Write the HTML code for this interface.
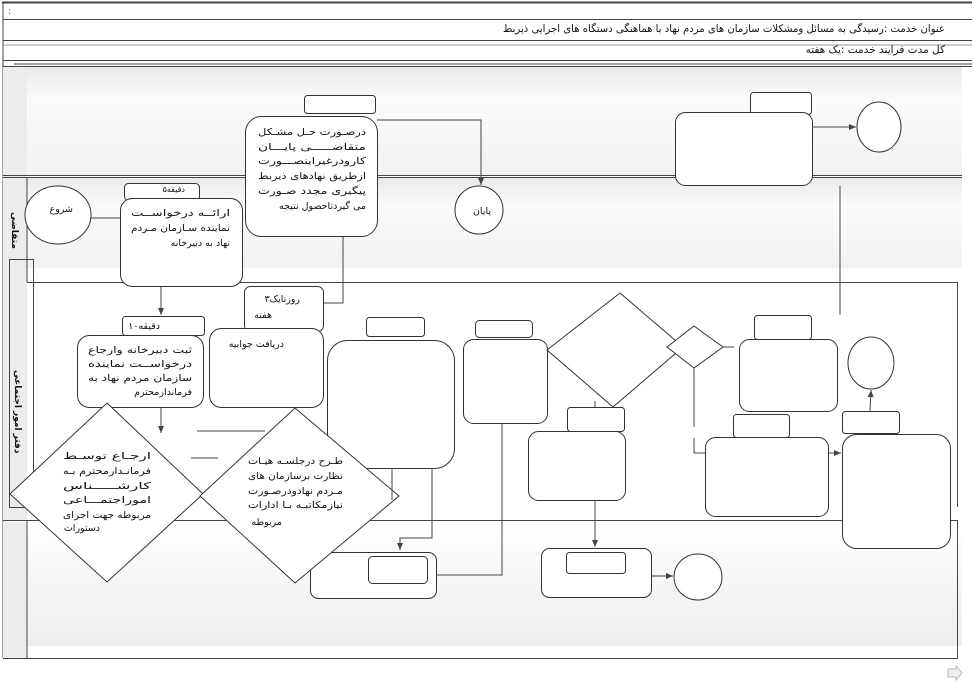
<!DOCTYPE html>
<html><head><meta charset="utf-8"><style>
body{margin:0;background:#fff;width:974px;height:682px;overflow:hidden}
svg text{font-family:"DejaVu Sans","Liberation Sans",sans-serif;font-size:9.5px;fill:#111}
</style></head><body>
<svg width="974" height="682" viewBox="0 0 974 682" xmlns="http://www.w3.org/2000/svg">
<defs>
<linearGradient id="g1" x1="0" y1="0" x2="0" y2="1"><stop offset="0" stop-color="#e9e9e9"/><stop offset="0.3" stop-color="#fbfbfb"/><stop offset="1" stop-color="#f2f2f2"/></linearGradient>
<linearGradient id="g2" x1="0" y1="0" x2="0" y2="1"><stop offset="0" stop-color="#fff"/><stop offset="1" stop-color="#ededed"/></linearGradient>
<marker id="a" markerWidth="8" markerHeight="8" refX="7" refY="4" orient="auto" markerUnits="userSpaceOnUse"><path d="M0,1 L7,4 L0,7 z" fill="#444"/></marker>
</defs>
<g stroke="#444" fill="none" stroke-width="1">
<line x1="2" y1="2.5" x2="972" y2="2.5" stroke-width="2"/>
<line x1="3" y1="3" x2="3" y2="658"/>
<line x1="3" y1="19.5" x2="972" y2="19.5"/>
<line x1="3" y1="40.5" x2="972" y2="40.5"/>
<line x1="3" y1="45" x2="972" y2="45" stroke="#999"/>
<line x1="3" y1="60.5" x2="972" y2="60.5"/>
<line x1="14" y1="64" x2="972" y2="64"/>
<line x1="3" y1="66.5" x2="972" y2="66.5"/>
</g>
<text x="8" y="14" style="fill:#e33">:</text>
<text x="945" y="32" text-anchor="end" style="font-size:10.5px" textLength="442" lengthAdjust="spacingAndGlyphs">عنوان خدمت :رسیدگی به مسائل ومشکلات سازمان های مردم نهاد با هماهنگی دستگاه های اجرایی ذیربط</text>
<text x="945" y="53" text-anchor="end" style="font-size:10.5px">کل مدت فرایند خدمت :یک هفته</text>
<rect x="3" y="67" width="24" height="110" fill="#ececec"/>
<rect x="27" y="67" width="935" height="108" fill="url(#g1)"/>
<rect x="3" y="178" width="24" height="342" fill="#ececec"/>
<rect x="27" y="178" width="935" height="90" fill="url(#g1)"/>
<rect x="27" y="522" width="935" height="124" fill="url(#g2)"/>
<rect x="3" y="522" width="24" height="136" fill="#ececec"/>
<g stroke="#444" fill="none">
<line x1="3" y1="175.5" x2="962" y2="175.5"/>
<line x1="3" y1="177.5" x2="962" y2="177.5"/>
<line x1="27" y1="178" x2="27" y2="282"/>
<line x1="27" y1="282.5" x2="958" y2="282.5"/>
<rect x="9.5" y="259.5" width="24" height="248"/>
<line x1="3" y1="520.5" x2="958" y2="520.5"/>
<line x1="27" y1="520" x2="27" y2="658"/>
<line x1="3" y1="658.5" x2="958" y2="658.5"/>
<line x1="957.5" y1="282" x2="957.5" y2="507"/>
<line x1="957.5" y1="520" x2="957.5" y2="658"/>
</g>
<text transform="translate(12,212) rotate(90)" style="font-size:9px;font-weight:bold">متقاضی</text>
<text transform="translate(15,370) rotate(90)" style="font-size:9px;font-weight:bold">دفتر امور اجتماعی</text>
<g stroke="#333" fill="#fff" stroke-width="1">
<rect x="304.5" y="95.5" width="71" height="18" rx="3"/>
<rect x="245.5" y="116.5" width="132" height="120" rx="16"/>
<rect x="750.5" y="92.5" width="61" height="22" rx="3"/>
<rect x="675.5" y="112.5" width="137" height="73" rx="10"/>
<ellipse cx="879" cy="127" rx="22" ry="25"/>
<ellipse cx="58" cy="215" rx="33" ry="29"/>
<rect x="124.5" y="183.5" width="75" height="17" rx="4"/>
<rect x="120.5" y="198.5" width="122" height="88" rx="12"/>
<ellipse cx="479" cy="210" rx="24" ry="24"/>
<rect x="244.5" y="286.5" width="79" height="45" rx="6"/>
<rect x="209.5" y="328.5" width="114" height="79" rx="12"/>
<rect x="122.5" y="316.5" width="82" height="19" rx="3"/>
<rect x="77.5" y="335.5" width="126" height="72" rx="12"/>
<rect x="366.5" y="317.5" width="58" height="19" rx="3"/>
<rect x="327.5" y="340.5" width="127" height="128" rx="20"/>
<rect x="475.5" y="320.5" width="57" height="17" rx="4"/>
<rect x="463.5" y="339.5" width="84" height="84" rx="10"/>
<polygon points="620,293 683,347 613,407 547,350"/>
<polygon points="694,326 723,347 694,368 667,347"/>
<rect x="567.5" y="407.5" width="57" height="24" rx="3"/>
<rect x="528.5" y="431.5" width="97" height="69" rx="10"/>
<rect x="754.5" y="315.5" width="57" height="24" rx="3"/>
<rect x="739.5" y="339.5" width="98" height="72" rx="10"/>
<ellipse cx="871" cy="363" rx="23" ry="26"/>
<rect x="733.5" y="414.5" width="56" height="23" rx="3"/>
<rect x="705.5" y="437.5" width="123" height="79" rx="10"/>
<rect x="842.5" y="411.5" width="57" height="22" rx="3"/>
<rect x="842.5" y="434.5" width="108" height="114" rx="14"/>
<rect x="310.5" y="552.5" width="126" height="46" rx="8"/>
<rect x="368.5" y="556.5" width="59" height="27" rx="4"/>
<rect x="541.5" y="548.5" width="110" height="49" rx="8"/>
<rect x="566.5" y="552.5" width="59" height="21" rx="3"/>
<ellipse cx="698" cy="577" rx="24" ry="23"/>
<polygon points="107,403 203,494 107,582 10,494"/>
<polygon points="295,408 399,496 295,583 200,496"/>
</g>
<g stroke="#444" fill="none">
<polyline points="377,120 481,120 481,185" marker-end="url(#a)"/>
<line x1="812" y1="127" x2="856" y2="127" marker-end="url(#a)"/>
<line x1="840" y1="186" x2="840" y2="315"/>
<line x1="91" y1="218" x2="120" y2="218"/>
<line x1="161" y1="287" x2="161" y2="315" marker-end="url(#a)"/>
<line x1="161" y1="408" x2="161" y2="433" marker-end="url(#a)"/>
<polyline points="343,237 343,303 324,303"/>
<line x1="197" y1="431" x2="265" y2="431"/>
<line x1="191" y1="458" x2="218" y2="458"/>
<line x1="392" y1="468" x2="392" y2="500"/>
<polyline points="432,468 432,538 400,538 400,550" marker-end="url(#a)"/>
<polyline points="436,575 502,575 502,424"/>
<line x1="595" y1="401" x2="595" y2="407"/>
<line x1="595" y1="501" x2="595" y2="547" marker-end="url(#a)"/>
<line x1="652" y1="576" x2="673" y2="576" marker-end="url(#a)"/>
<line x1="723" y1="347" x2="734" y2="347"/>
<polyline points="694,368 694,427"/>
<polyline points="694,438 694,453 705,453"/>
<line x1="829" y1="453" x2="841" y2="453" marker-end="url(#a)"/>
<line x1="870" y1="411" x2="871" y2="390" marker-end="url(#a)"/>
</g>
<g text-anchor="end" lengthAdjust="spacingAndGlyphs">
<text x="366" y="135" textLength="108" lengthAdjust="spacingAndGlyphs">درصـورت حـل مشـکل</text>
<text x="366" y="150" textLength="108" lengthAdjust="spacingAndGlyphs">متقاضـــــی پایـــان</text>
<text x="366" y="164" textLength="108" lengthAdjust="spacingAndGlyphs">کارودرغیراینصـــورت</text>
<text x="366" y="179" textLength="108" lengthAdjust="spacingAndGlyphs">ازطریق نهادهای ذیربط</text>
<text x="366" y="194" textLength="108" lengthAdjust="spacingAndGlyphs">پیگیری مجدد صـورت</text>
<text x="366" y="209">می گیردتاحصول نتیجه</text>
<text x="73" y="212">شروع</text>
<text x="491" y="214">پایان</text>
<text x="185" y="192" style="font-size:8px">۵دقیقه</text>
<text x="230" y="216" textLength="99" lengthAdjust="spacingAndGlyphs">ارائــه درخواســت</text>
<text x="230" y="231" textLength="99" lengthAdjust="spacingAndGlyphs">نماینده سـازمان مـردم</text>
<text x="230" y="246">نهاد به دبیرخانه</text>
<text x="300" y="302">۳روزتایک</text>
<text x="272" y="318">هفته</text>
<text x="160" y="329">۱۰دقیقه</text>
<text x="284" y="347">دریافت جوابیه</text>
<text x="192" y="353" textLength="104" lengthAdjust="spacingAndGlyphs">ثبت دبیرخانه وارجاع</text>
<text x="192" y="367" textLength="104" lengthAdjust="spacingAndGlyphs">درخواســت نماینده</text>
<text x="192" y="381" textLength="104" lengthAdjust="spacingAndGlyphs">سازمان مردم نهاد  به</text>
<text x="192" y="395">فرماندارمحترم</text>
<text x="151" y="459" textLength="88" lengthAdjust="spacingAndGlyphs">ارجـاع توسـط</text>
<text x="151" y="474" textLength="88" lengthAdjust="spacingAndGlyphs">فرمانـدارمحترم بـه</text>
<text x="151" y="489" textLength="88" lengthAdjust="spacingAndGlyphs">کارشـــــناس</text>
<text x="151" y="503" textLength="88" lengthAdjust="spacingAndGlyphs">اموراجتمـــاعی</text>
<text x="151" y="518" textLength="88" lengthAdjust="spacingAndGlyphs">مربوطه جهت اجرای</text>
<text x="100" y="531">دستورات</text>
<text x="343" y="464" textLength="95" lengthAdjust="spacingAndGlyphs">طـرح درجلسـه هیـات</text>
<text x="343" y="479" textLength="95" lengthAdjust="spacingAndGlyphs">نظارت برسازمان های</text>
<text x="343" y="494" textLength="95" lengthAdjust="spacingAndGlyphs">مـردم نهادودرصـورت</text>
<text x="343" y="508" textLength="95" lengthAdjust="spacingAndGlyphs">نیازمکاتبـه بـا ادارات</text>
<text x="282" y="525">مربوطه</text>
</g>
<polygon points="948,669 956,669 956,666 962,673 956,680 956,677 948,677" fill="#eee" stroke="#bbb"/>
</svg>
</body></html>
